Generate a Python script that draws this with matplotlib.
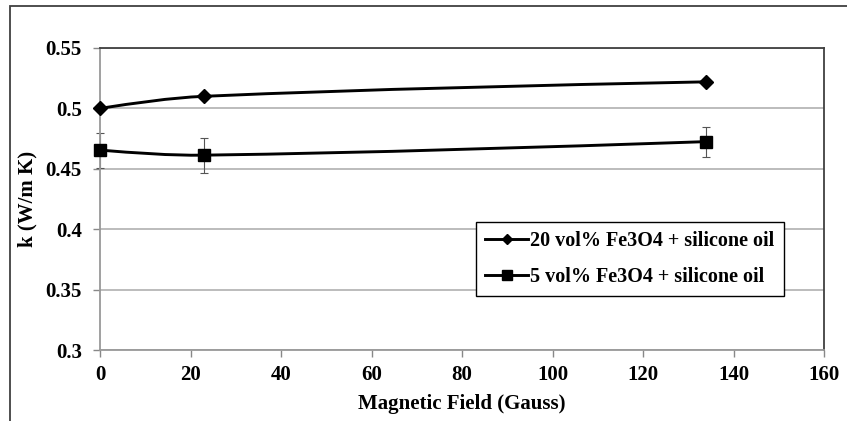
#!/usr/bin/env python3
"""Thermal conductivity of Fe3O4 / silicone oil vs magnetic field."""

import matplotlib
matplotlib.use("Agg")
import matplotlib.pyplot as plt
from matplotlib.lines import Line2D
from matplotlib.patches import PathPatch, Rectangle
from matplotlib.path import Path

field = [0, 23, 134]
k_20 = [0.500, 0.510, 0.522]
k_5 = [0.4655, 0.4613, 0.4725]
k_5_err = [0.0145, 0.0146, 0.0125]

label_20 = "20 vol% Fe3O4 + silicone oil"
label_5 = "5 vol% Fe3O4 + silicone oil"

plt.rcParams["font.family"] = ["Liberation Serif", "DejaVu Serif"]
plt.rcParams["font.weight"] = "bold"


def smooth_path(xs, ys):
    # smoothed line like a spreadsheet: cubic Hermite pieces drawn as beziers
    n = len(xs)
    slopes = []
    for i in range(n):
        if 0 < i < n - 1:
            slopes.append((ys[i + 1] - ys[i - 1]) / (xs[i + 1] - xs[i - 1]))
        else:
            slopes.append(None)
    chord0 = (ys[1] - ys[0]) / (xs[1] - xs[0])
    chordn = (ys[-1] - ys[-2]) / (xs[-1] - xs[-2])
    slopes[0] = (3 * chord0 - (slopes[1] if n > 2 else chord0)) / 2
    slopes[-1] = (3 * chordn - (slopes[-2] if n > 2 else chordn)) / 2

    verts = [(xs[0], ys[0])]
    codes = [Path.MOVETO]
    for i in range(n - 1):
        h = (xs[i + 1] - xs[i]) / 3.0
        verts += [(xs[i] + h, ys[i] + h * slopes[i]),
                  (xs[i + 1] - h, ys[i + 1] - h * slopes[i + 1]),
                  (xs[i + 1], ys[i + 1])]
        codes += [Path.CURVE4] * 3
    return Path(verts, codes)


fig = plt.figure(figsize=(8.47, 4.21), dpi=100)
ax = fig.add_axes([100 / 847, 1 - 350 / 421, 724 / 847, 302 / 421])

for ys in (k_20, k_5):
    ax.add_patch(PathPatch(smooth_path(field, ys), facecolor="none",
                           edgecolor="black", linewidth=2.1, zorder=3,
                           clip_on=False))

ax.errorbar(field, k_5, yerr=k_5_err, fmt="none", ecolor="#555555",
            elinewidth=0.8, capsize=3.2, capthick=0.8, zorder=2,
            clip_on=False)
ax.plot(field, k_20, linestyle="none", marker="D", markersize=7.2,
        color="black", zorder=4, clip_on=False)
ax.plot(field, k_5, linestyle="none", marker="s", markersize=8.5,
        color="black", zorder=4, clip_on=False)

ax.set_xlim(0, 160)
ax.set_ylim(0.3, 0.55)
ax.set_xticks(range(0, 161, 20))
ax.set_yticks([0.3, 0.35, 0.4, 0.45, 0.5, 0.55])
ax.set_yticklabels(["0.3", "0.35", "0.4", "0.45", "0.5", "0.55"])
ax.tick_params(axis="both", labelsize=15, color="#888888", length=5,
               width=1, direction="out")
ax.tick_params(axis="x", pad=6)
ax.tick_params(axis="y", pad=8)
for lbl in ax.get_xticklabels() + ax.get_yticklabels():
    lbl.set_fontweight("bold")

ax.yaxis.grid(True, color="#b0b0b0", linewidth=1.2)
ax.set_axisbelow(True)
ax.spines["left"].set_color("#999999")
ax.spines["bottom"].set_color("#999999")
ax.spines["top"].set_color("#404040")
ax.spines["right"].set_color("#404040")
for s in ax.spines.values():
    s.set_linewidth(1.3)

ax.set_xlabel("Magnetic Field (Gauss)", fontsize=15, fontweight="bold",
              labelpad=6)
ax.set_ylabel("k (W/m K)", fontsize=15, fontweight="bold", labelpad=6)

handles = [
    Line2D([], [], color="black", linewidth=2.1, marker="D", markersize=5.5),
    Line2D([], [], color="black", linewidth=2.1, marker="s", markersize=7),
]
leg = fig.legend(handles, [label_20, label_5], loc="upper left",
                 bbox_to_anchor=(476 / 847, 1 - 222 / 421),
                 prop={"size": 14.5, "weight": "bold"}, fancybox=False,
                 framealpha=1, edgecolor="black", handlelength=2.15,
                 handletextpad=0.1, borderpad=0.45, labelspacing=0.8,
                 borderaxespad=0)
leg.get_frame().set_linewidth(1.0)

# outer chart frame
fig.add_artist(Rectangle((10 / 847, -0.1), 1.0, 1 - 6 / 421 + 0.1,
                         transform=fig.transFigure, fill=False,
                         edgecolor="#404040", linewidth=1.3))

fig.savefig("out.png", dpi=100)
